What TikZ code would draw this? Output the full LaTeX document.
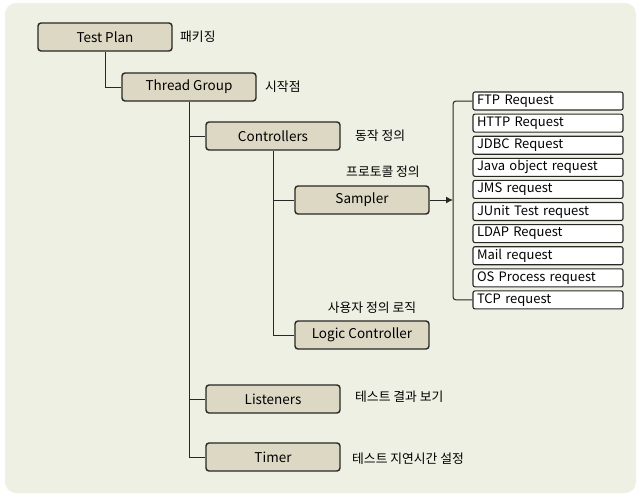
\documentclass[tikz,border=0pt]{standalone}
\usepackage{fontspec}
\setmainfont{Noto Sans CJK KR}
\usetikzlibrary{positioning,arrows.meta}
\definecolor{Paper}{RGB}{237,240,226}
\definecolor{Box}{RGB}{221,216,196}
\definecolor{Ink}{RGB}{40,40,36}

\begin{document}
\begin{tikzpicture}[x=1pt,y=-1pt,
 b/.style={rounded corners=3pt,draw=Ink,line width=1.4pt,fill=Box,minimum width=134pt,minimum height=28pt,font=\fontsize{13.5}{15}\selectfont},
 r/.style={rounded corners=2pt,draw=Ink,line width=1.1pt,fill=white,minimum width=150pt,minimum height=18pt,inner sep=0pt,text width=142pt,align=left,font=\fontsize{13}{14}\selectfont},
 t/.style={font=\fontsize{12.8}{14}\selectfont,inner sep=0pt,anchor=west},
 l/.style={line width=1pt,Ink}]
\useasboundingbox (0,0) rectangle (641,498);
\fill[Paper,rounded corners=11pt] (5,3) rectangle (636,493);
% main tree
\node[b] (plan) at (105,37) {Test Plan};
\node[b] (group) at (189,87) {Thread Group};
\node[b] (ctrl) at (273,136) {Controllers};
\node[b] (samp) at (362,200) {Sampler};
\node[b] (logic) at (362,335) {Logic Controller};
\node[b] (lis) at (273,399) {Listeners};
\node[b] (tim) at (273,457) {Timer};
% notes
\node[t] (n1) at (180,37) {패키징};
\node[t] (n2) at (265,87) {시작점};
\node[t] (n3) at (355,136) {동작 정의};
\node[t,anchor=center] (n4) at (383,172) {프로토콜 정의};
\node[t,anchor=center] (n5) at (372,308) {사용자 정의 로직};
\node[t] (n6) at (355,397) {테스트 결과 보기};
\node[t] (n7) at (352,459) {테스트 지연시간 설정};
% sampler list
\node[r] (q1) at (548,101) {FTP Request};
\node[r,below=3pt of q1] (q2) {HTTP Request};
\node[r,below=3pt of q2] (q3) {JDBC Request};
\node[r,below=3pt of q3] (q4) {Java object request};
\node[r,below=3pt of q4] (q5) {JMS request};
\node[r,below=3pt of q5] (q6) {JUnit Test request};
\node[r,below=3pt of q6] (q7) {LDAP Request};
\node[r,below=3pt of q7] (q8) {Mail request};
\node[r,below=3pt of q8] (q9) {OS Process request};
\node[r,below=3pt of q9] (q10) {TCP request};
\coordinate (brk) at (453,200);
% connectors
\draw[l] (plan.south) |- (group.west);
\draw[l] (group.south) |- (tim.west);
\draw[l] (group.south |- ctrl.west) -- (ctrl.west);
\draw[l] (group.south |- lis.west) -- (lis.west);
\draw[l] (ctrl.south) |- (logic.west);
\draw[l] (ctrl.south |- samp.west) -- (samp.west);
\draw[l,-{Latex[length=7pt,width=7pt]}] (samp.east) -- (brk);
\draw[l,rounded corners=3pt] (q1.west) -| (brk) |- (q10.west);
\end{tikzpicture}
\end{document}
